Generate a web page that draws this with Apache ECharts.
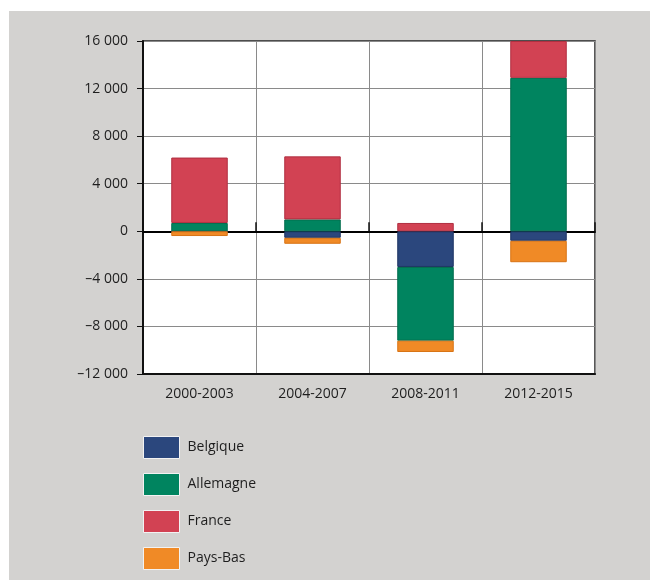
<!DOCTYPE html>
<html>
<head>
<meta charset="utf-8">
<script src="https://cdn.jsdelivr.net/npm/echarts@6/dist/echarts.min.js"></script>
<style>
    html, body { margin: 0; padding: 0; background: #ffffff; }
    #chart { width: 650px; height: 580px; }
</style>
</head>
<body>
<div id="chart"></div>
<script>
const periods = ['2000-2003', '2004-2007', '2008-2011', '2012-2015'];
const belgique = [0, -550, -3000, -800];
const allemagne = [700, 1000, -6200, 12900];
const france = [5500, 5300, 700, 3100];
const paysBas = [-400, -500, -950, -1800];

const font = '"Open Sans", "Noto Sans", sans-serif';

// "12 000" with a space, minus as en dash
function fmt(v) {
    const s = Math.abs(v).toString().replace(/\B(?=(\d{3})+(?!\d))/g, ' ');
    return v < 0 ? '\u2013' + s : s;
}

function bar(name, data, color, edge) {
    return {
        name: name,
        type: 'bar',
        stack: 'total',
        barWidth: '50%',
        xAxisIndex: 0,
        data: data,
        itemStyle: { color: color, borderColor: edge, borderWidth: 1 }
    };
}

const chart = echarts.init(document.getElementById('chart'));

chart.setOption({
    animation: false,
    backgroundColor: '#ffffff',
    textStyle: { fontFamily: font },
    graphic: [{
        type: 'rect',
        z: -10,
        shape: { x: 9, y: 11, width: 641, height: 569 },
        style: { fill: '#d3d2d0' }
    }],
    grid: {
        left: 143, right: 55, top: 41, bottom: 206,
        show: true,
        backgroundColor: '#ffffff',
        borderColor: '#222222',
        borderWidth: 1.5,
        outerBoundsMode: 'none'
    },
    legend: {
        orient: 'vertical',
        left: 143,
        top: 436,
        height: 160,
        padding: 0,
        itemWidth: 36,
        itemHeight: 22,
        itemGap: 14,
        icon: 'rect',
        itemStyle: { borderColor: '#f2f2f2', borderWidth: 1 },
        textStyle: { fontSize: 14, color: '#1e1e1e', fontFamily: font, padding: [0, 0, 0, 3] },
        data: ['Belgique', 'Allemagne', 'France', 'Pays-Bas']
    },
    xAxis: [
        {
            type: 'category',
            data: periods,
            position: 'bottom',
            axisLine: { onZero: false, lineStyle: { color: '#111111', width: 2 } },
            axisTick: { show: false },
            splitLine: { show: true, lineStyle: { color: '#8a8a8a', width: 1 } },
            axisLabel: { color: '#1e1e1e', fontSize: 14, margin: 13, fontFamily: font }
        },
        {
            type: 'category',
            data: periods,
            position: 'bottom',
            axisLine: { onZero: true, lineStyle: { color: '#000000', width: 2 } },
            axisTick: { show: true, inside: true, length: 9, lineStyle: { color: '#111111', width: 1.5 } },
            axisLabel: { show: false },
            splitLine: { show: false }
        }
    ],
    yAxis: {
        type: 'value',
        min: -12000,
        max: 16000,
        interval: 4000,
        axisLine: { show: true, lineStyle: { color: '#111111', width: 2 } },
        axisTick: { show: true, length: 6, lineStyle: { color: '#111111', width: 1 } },
        splitLine: { show: true, lineStyle: { color: '#8a8a8a', width: 1 } },
        axisLabel: { color: '#1e1e1e', fontSize: 14, margin: 15, fontFamily: font, formatter: fmt }
    },
    series: [
        bar('Belgique', belgique, '#2b477d', '#1d3363'),
        bar('Allemagne', allemagne, '#00845f', '#006b4c'),
        bar('France', france, '#d24253', '#b02f40'),
        bar('Pays-Bas', paysBas, '#f08a26', '#d87314')
    ]
});
</script>
</body>
</html>
